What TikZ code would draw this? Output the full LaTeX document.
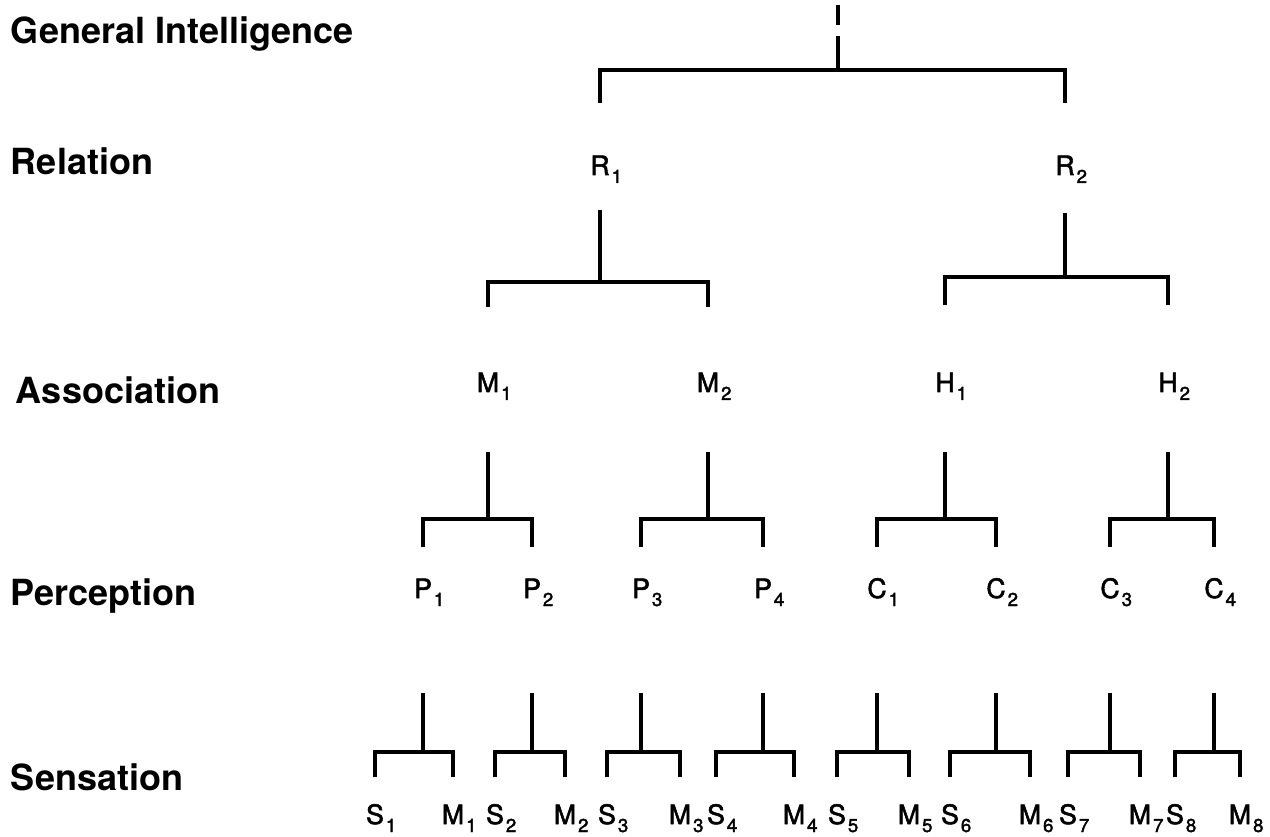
\documentclass[tikz,border=0pt]{standalone}
\usepackage{fontspec}
\setmainfont{TeX Gyre Heros}
\newfontfamily\medfont[FakeBold=2]{TeX Gyre Heros}
\tikzset{every picture/.style={line width=3pt}}
\tikzset{level/.style={anchor=base west,inner sep=0.75pt,font=\bfseries\fontsize{27}{31}\selectfont},
  item/.style={anchor=base,inner sep=0.75pt,font=\medfont\fontsize{20}{24}\selectfont}}
\newcommand{\sbs}[1]{\rlap{\kern1.5pt\raisebox{-6pt}{\fontsize{14}{15}\selectfont #1}}}

\begin{document}
\begin{tikzpicture}[x=0.75pt,y=0.75pt,yscale=-1,xscale=1]
\useasboundingbox (0,0) rectangle (1270,837);

% Text Node
\draw (8,44) node [level] (lgi) {General Intelligence};
% Text Node
\draw (8,175) node [level] (lrel) {Relation};
% Text Node
\draw (13,404) node [level] (lass) {Association};
% Text Node
\draw (8,605) node [level] (lper) {Perception};
% Text Node
\draw (8,790) node [level] (lsen) {Sensation};

% Text Node
\draw (600,175) node [item] (R1) {R\sbs{1}};
\draw (1065,175) node [item] (R2) {R\sbs{2}};
% Text Node
\draw (488,392) node [item] (M1) {M\sbs{1}};
\draw (708,392) node [item] (M2) {M\sbs{2}};
\draw (945,392) node [item] (H1) {H\sbs{1}};
\draw (1168,392) node [item] (H2) {H\sbs{2}};
% Text Node
\draw (423,598) node [item] (P1) {P\sbs{1}};
\draw (532,598) node [item] (P2) {P\sbs{2}};
\draw (641,598) node [item] (P3) {P\sbs{3}};
\draw (763,598) node [item] (P4) {P\sbs{4}};
\draw (877,598) node [item] (C1) {C\sbs{1}};
\draw (996,598) node [item] (C2) {C\sbs{2}};
\draw (1110,598) node [item] (C3) {C\sbs{3}};
\draw (1214,598) node [item] (C4) {C\sbs{4}};
% Text Node
\draw (375,824) node [item] (S1) {S\sbs{1}};
\draw (453,824) node [item] (Mb1) {M\sbs{1}};
\draw (495,824) node [item] (S2) {S\sbs{2}};
\draw (565,824) node [item] (Mb2) {M\sbs{2}};
\draw (607,824) node [item] (S3) {S\sbs{3}};
\draw (680,824) node [item] (Mb3) {M\sbs{3}};
\draw (716,824) node [item] (S4) {S\sbs{4}};
\draw (794,824) node [item] (Mb4) {M\sbs{4}};
\draw (837,824) node [item] (S5) {S\sbs{5}};
\draw (909,824) node [item] (Mb5) {M\sbs{5}};
\draw (950,824) node [item] (S6) {S\sbs{6}};
\draw (1030,824) node [item] (Mb6) {M\sbs{6}};
\draw (1068,824) node [item] (S7) {S\sbs{7}};
\draw (1140,824) node [item] (Mb7) {M\sbs{7}};
\draw (1175,824) node [item] (S8) {S\sbs{8}};
\draw (1240,824) node [item] (Mb8) {M\sbs{8}};

%Straight Lines [top]
\coordinate (apex) at (838,5);
\draw (apex) -- (apex |- 0,25) (apex |- 0,36) -- (apex |- 0,70) ;
\draw (R1 |- 0,103) -- (R1 |- 0,70) -- (R2 |- 0,70) -- (R2 |- 0,103) ;

%Straight Lines [R]
\draw (M1 |- 0,307) -- (M1 |- 0,282) -- (M2 |- 0,282) -- (M2 |- 0,307) (R1 |- 0,282) -- (R1 |- 0,210) ;
\draw (H1 |- 0,305) -- (H1 |- 0,277) -- (H2 |- 0,277) -- (H2 |- 0,305) (R2 |- 0,277) -- (R2 |- 0,213) ;

%Straight Lines [M, H]
\draw (P1 |- 0,547) -- (P1 |- 0,519) -- (P2 |- 0,519) -- (P2 |- 0,547) (M1 |- 0,519) -- (M1 |- 0,452) ;
\draw (P3 |- 0,547) -- (P3 |- 0,519) -- (P4 |- 0,519) -- (P4 |- 0,547) (M2 |- 0,519) -- (M2 |- 0,452) ;
\draw (C1 |- 0,547) -- (C1 |- 0,519) -- (C2 |- 0,519) -- (C2 |- 0,547) (H1 |- 0,519) -- (H1 |- 0,452) ;
\draw (C3 |- 0,547) -- (C3 |- 0,519) -- (C4 |- 0,519) -- (C4 |- 0,547) (H2 |- 0,519) -- (H2 |- 0,452) ;

%Straight Lines [P, C]
\draw (S1 |- 0,777) -- (S1 |- 0,752) -- (Mb1 |- 0,752) -- (Mb1 |- 0,777) (P1 |- 0,752) -- (P1 |- 0,693) ;
\draw (S2 |- 0,777) -- (S2 |- 0,752) -- (Mb2 |- 0,752) -- (Mb2 |- 0,777) (P2 |- 0,752) -- (P2 |- 0,693) ;
\draw (S3 |- 0,777) -- (S3 |- 0,752) -- (Mb3 |- 0,752) -- (Mb3 |- 0,777) (P3 |- 0,752) -- (P3 |- 0,693) ;
\draw (S4 |- 0,777) -- (S4 |- 0,752) -- (Mb4 |- 0,752) -- (Mb4 |- 0,777) (P4 |- 0,752) -- (P4 |- 0,693) ;
\draw (S5 |- 0,777) -- (S5 |- 0,752) -- (Mb5 |- 0,752) -- (Mb5 |- 0,777) (C1 |- 0,752) -- (C1 |- 0,693) ;
\draw (S6 |- 0,777) -- (S6 |- 0,752) -- (Mb6 |- 0,752) -- (Mb6 |- 0,777) (C2 |- 0,752) -- (C2 |- 0,693) ;
\draw (S7 |- 0,777) -- (S7 |- 0,752) -- (Mb7 |- 0,752) -- (Mb7 |- 0,777) (C3 |- 0,752) -- (C3 |- 0,693) ;
\draw (S8 |- 0,777) -- (S8 |- 0,752) -- (Mb8 |- 0,752) -- (Mb8 |- 0,777) (C4 |- 0,752) -- (C4 |- 0,693) ;
\end{tikzpicture}
\end{document}
